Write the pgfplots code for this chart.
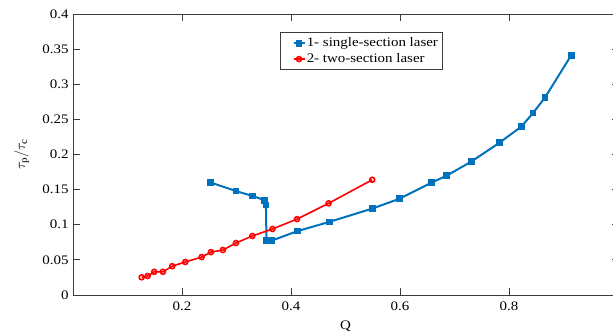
\documentclass[border=0pt]{standalone}
\usepackage{pgfplots}
\pgfplotsset{compat=1.18}
\usepackage{fontspec}
\setmainfont[FakeStretch=1.15]{Liberation Serif}
\definecolor{mblue}{RGB}{0,114,189}
\definecolor{axgray}{RGB}{60,60,60}
\begin{document}
\begin{tikzpicture}[font=\fontsize{13bp}{15bp}\selectfont]
\begin{axis}[
  scale only axis,
  width=545bp, height=281bp,
  xmin=0, xmax=1, ymin=0, ymax=0.4,
  xtick={0.2,0.4,0.6,0.8},
  ytick={0,0.05,0.1,0.15,0.2,0.25,0.3,0.35,0.4},
  yticklabels={0,0.05,0.1,0.15,0.2,0.25,0.3,0.35,0.4},
  xticklabels={0.2,0.4,0.6,0.8},
  tick align=inside,
  major tick length=6.5bp,
  axis line style={axgray, line width=0.9bp},
  every tick/.style={axgray, line width=0.9bp},
  xticklabel style={yshift=-3bp},
  yticklabel style={xshift=-1bp},
  xlabel={Q},
  xlabel style={at={(axis description cs:0.5,0)}, anchor=center, yshift=-31bp},
  ylabel={$\tau_{\mathrm{p}}/\tau_{\mathrm{c}}$},
  ylabel style={at={(axis description cs:-0.094,0.5)}, anchor=center, font=\fontsize{14bp}{16bp}\selectfont},
  legend style={at={(axis cs:0.380,0.374)}, anchor=north west, draw=axgray, line width=0.9bp,
    inner xsep=3bp, inner ysep=4bp, row sep=3bp, font=\fontsize{13bp}{15bp}\selectfont,
    nodes={inner sep=1.2bp}},
  legend cell align=left,
  legend image code/.code={\path (0bp,0bp); \draw[#1, mark repeat=2, mark phase=2] plot coordinates {(9bp,0bp) (14.5bp,0bp) (20bp,0bp)};},
]
\addplot[mblue, line width=2bp, mark=square*, mark size=2.4bp, mark options={solid, fill=mblue}] coordinates {
(0.253,0.160)
(0.299,0.148)
(0.329,0.141)
(0.352,0.135)
(0.354,0.128)
(0.355,0.0775)
(0.365,0.0775)
(0.412,0.091)
(0.470,0.104)
(0.549,0.123)
(0.599,0.137)
(0.658,0.160)
(0.686,0.170)
(0.731,0.190)
(0.783,0.217)
(0.823,0.240)
(0.844,0.259)
(0.866,0.281)
(0.914,0.341)
};
\addlegendentry{1- single-section laser}
\addplot[red, line width=1.6bp, mark=o, mark size=2.5bp, mark options={solid, line width=1.6bp}] coordinates {
(0.126,0.0252)
(0.137,0.027)
(0.149,0.033)
(0.165,0.033)
(0.182,0.041)
(0.206,0.047)
(0.236,0.054)
(0.253,0.061)
(0.275,0.064)
(0.299,0.074)
(0.329,0.084)
(0.366,0.094)
(0.411,0.108)
(0.469,0.1305)
(0.549,0.164)
};
\addlegendentry{2- two-section laser}
\end{axis}
\pgfresetboundingbox
\path[use as bounding box] (-73bp,-39bp) rectangle (540bp,295bp);
\end{tikzpicture}
\end{document}
